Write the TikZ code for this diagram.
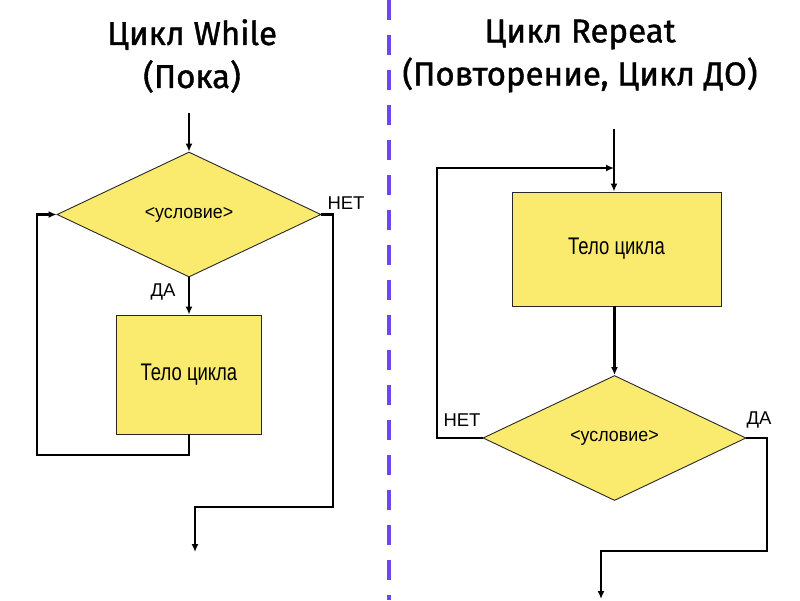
\documentclass[tikz,border=0pt]{standalone}
\usepackage{fontspec}
\setmainfont{Liberation Sans}
\newfontfamily\titlefont[FakeBold=1.2]{Fira Sans}
\usetikzlibrary{shapes.geometric,arrows.meta}
\definecolor{boxyellow}{RGB}{250,234,110}
\definecolor{sepviolet}{RGB}{110,70,240}
\definecolor{edgegray}{RGB}{40,40,40}
\tikzset{
  blockbox/.style={draw=edgegray, line width=0.9pt, fill=boxyellow, inner sep=0pt},
  condbox/.style={diamond, draw=edgegray, line width=0.9pt, fill=boxyellow, inner sep=0pt, font=\fontsize{19}{21}\selectfont},
  conn/.style={line width=2.5pt, draw=black, -{Latex[length=8pt,width=7pt]}},
  lbl/.style={font=\fontsize{18.5}{20}\selectfont, inner sep=0pt},
  ttl/.style={font=\titlefont\fontsize{33}{43}\selectfont, align=center, inner sep=0pt},
  bodytext/.style={font=\fontsize{24}{26}\selectfont}
}
\newcommand{\bodylabel}{\scalebox{0.77}[1]{Тело цикла}}
\newcommand{\condlabel}{\scalebox{0.94}[1]{<условие>}}
\begin{document}
\begin{tikzpicture}[x=1pt,y=-1pt]
\useasboundingbox (0,0) rectangle (800,600);
% separator
\coordinate (sepTop) at (389,0);
\coordinate (sepBot) at (389,600);
\draw[line width=4pt, sepviolet, dash pattern=on 20pt off 15pt] (sepTop) -- (sepBot);
% titles
\node[ttl] (titleL) at (192,56) {Цикл While\\(Пока)};
\node[ttl] (titleR) at (580,56) {Цикл Repeat\\(Повторение, Цикл ДО)};
% left: while
\node[condbox, minimum width=264pt, minimum height=125pt] (condL) at (189,214.5) {\condlabel};
\node[blockbox, minimum width=145pt, minimum height=119pt, bodytext] (bodyL) at (189,374.5) {\bodylabel};
\coordinate (inL) at (189,113);
\coordinate (l1) at (37,455);
\coordinate (l2) at (333,507);
\coordinate (outL) at (195,552);
\draw[conn] (inL) -- (condL.north);
\draw[conn] (condL.south) -- (bodyL.north);
\draw[conn] (bodyL.south) |- (l1) |- (condL.west);
\draw[conn] (condL.east) -| (l2) -| (outL);
\node[lbl] (yesL) at (163,292) {ДА};
\node[lbl] (noL) at (346,203) {НЕТ};
% right: repeat
\node[blockbox, minimum width=209pt, minimum height=114pt, bodytext] (bodyR) at (616.5,249) {\bodylabel};
\node[condbox, minimum width=263pt, minimum height=125pt] (condR) at (614.5,438) {\condlabel};
\coordinate (inR) at (614,129);
\coordinate (r1) at (437,168);
\coordinate (r2) at (767,551);
\coordinate (outR) at (601,599);
\draw[conn] (inR) -- (inR |- bodyR.north);
\draw[conn] (bodyR.south -| condR.north) -- (condR.north);
\draw[conn] (condR.west) -| (r1) -- (r1 -| inR);
\draw[conn] (condR.east) -| (r2) -| (outR);
\node[lbl] (noR) at (462,420) {НЕТ};
\node[lbl] (yesR) at (759,420) {ДА};
\end{tikzpicture}
\end{document}
